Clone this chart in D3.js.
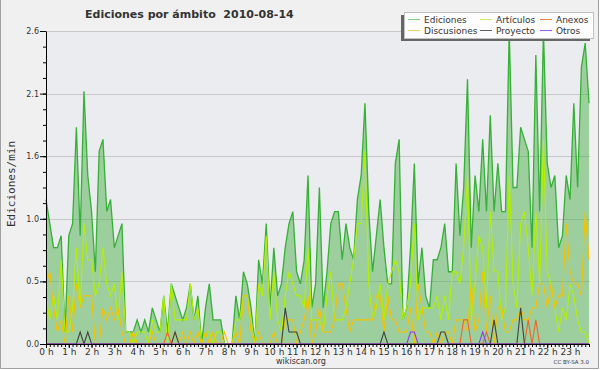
<!DOCTYPE html>
<html>
 <head>
  <meta charset="utf-8" />
  <title>Ediciones por ámbito 2010-08-14</title>
  <style>
   body, html {
    margin: 0;
    padding: 0;
    background: #fff;
   }
   svg {
    display: block;
   }
   text {
    font-family: "DejaVu Sans", sans-serif;
    fill: #333;
   }
  </style>
  <script src="https://cdnjs.cloudflare.com/ajax/libs/d3/7.9.0/d3.min.js"></script>
 </head>
 <body>
  <svg width="600" height="370"></svg>
  <script>
   // one value every 10 minutes, edits per minute
   const ediciones = [
    1.2, 1.0, 0.8, 0.8, 0.9, 0.1, 0.9, 1.0, 1.8, 0.9,
    2.1, 1.4, 1.1, 0.6, 1.6, 1.7, 1.1, 1.2, 0.8, 0.9,
    1.0, 0.1, 0.1, 0.1, 0.2, 0.1, 0.2, 0.1, 0.3, 0.2,
    0.1, 0.4, 0.1, 0.5, 0.4, 0.3, 0.2, 0.3, 0.5, 0.2,
    0.4, 0.0, 0.3, 0.5, 0.2, 0.2, 0.2, 0.0, 0.0, 0.0,
    0.4, 0.2, 0.6, 0.5, 0.3, 0.0, 0.7, 0.5, 1.0, 0.3,
    0.8, 0.4, 0.5, 0.8, 1.0, 1.1, 0.6, 0.5, 0.7, 1.4,
    0.3, 0.5, 1.3, 0.3, 0.6, 1.0, 1.1, 1.1, 0.7, 1.0,
    0.8, 0.7, 1.2, 1.4, 2.0, 1.1, 0.6, 0.9, 1.2, 0.8,
    0.5, 0.5, 1.5, 1.7, 0.2, 0.3, 0.8, 1.5, 0.5, 0.8,
    0.4, 0.3, 0.7, 0.7, 0.8, 1.0, 0.6, 0.6, 1.5, 0.9,
    1.3, 2.2, 0.8, 1.4, 1.1, 1.7, 1.1, 1.9, 1.1, 1.5,
    1.1, 1.1, 2.6, 1.3, 1.3, 1.8, 1.7, 1.6, 0.8, 2.4,
    1.1, 2.6, 1.5, 1.3, 1.4, 0.8, 0.9, 1.4, 1.2, 2.0,
    1.3, 2.3, 2.5, 2.0
   ];
   const articulos = [
    0.4, 0.2, 0.4, 0.2, 0.7, 0.1, 0.1, 0.3, 0.8, 0.3,
    1.0, 0.7, 0.7, 0.4, 0.5, 0.8, 0.5, 0.4, 0.5, 0.2,
    0.6, 0.1, 0.1, 0.0, 0.1, 0.1, 0.1, 0.0, 0.2, 0.1,
    0.1, 0.4, 0.0, 0.5, 0.2, 0.2, 0.2, 0.2, 0.5, 0.2,
    0.3, 0.0, 0.1, 0.1, 0.0, 0.1, 0.1, 0.0, 0.0, 0.0,
    0.2, 0.2, 0.4, 0.4, 0.2, 0.0, 0.5, 0.4, 0.9, 0.2,
    0.6, 0.2, 0.1, 0.4, 0.6, 0.5, 0.4, 0.4, 0.3, 0.8,
    0.2, 0.2, 0.2, 0.1, 0.4, 0.6, 0.2, 0.2, 0.2, 0.3,
    0.5, 0.7, 1.0, 1.0, 1.6, 0.5, 0.2, 0.3, 0.5, 0.2,
    0.5, 0.6, 0.7, 0.6, 0.2, 0.3, 0.5, 1.0, 0.2, 0.3,
    0.3, 0.3, 0.3, 0.4, 0.2, 0.4, 0.2, 0.6, 0.6, 0.5,
    0.8, 1.4, 0.2, 0.5, 0.9, 0.8, 0.3, 1.1, 0.6, 0.6,
    0.2, 0.3, 1.4, 0.5, 0.3, 1.0, 1.1, 0.8, 0.4, 1.1,
    0.5, 1.7, 0.6, 0.5, 0.3, 0.1, 0.3, 0.2, 0.5, 0.4,
    0.2, 0.1, 0.1, 0.0
   ];
   const discusiones = [
    0.5, 0.6, 0.3, 0.1, 0.2, 0.0, 0.4, 0.1, 0.5, 0.3,
    0.4, 0.4, 0.4, 0.0, 0.0, 0.3, 0.2, 0.3, 0.2, 0.3,
    0.1, 0.0, 0.0, 0.1, 0.0, 0.0, 0.0, 0.0, 0.1, 0.0,
    0.0, 0.0, 0.0, 0.0, 0.1, 0.0, 0.1, 0.0, 0.1, 0.0,
    0.1, 0.0, 0.1, 0.0, 0.1, 0.0, 0.0, 0.1, 0.0, 0.0,
    0.1, 0.0, 0.4, 0.4, 0.1, 0.0, 0.1, 0.0, 0.0, 0.0,
    0.1, 0.0, 0.0, 0.2, 0.2, 0.2, 0.0, 0.1, 0.2, 0.4,
    0.0, 0.1, 0.3, 0.1, 0.1, 0.1, 0.2, 0.5, 0.5, 0.3,
    0.1, 0.2, 0.2, 0.2, 0.2, 0.2, 0.2, 0.4, 0.4, 0.1,
    0.4, 0.2, 0.2, 0.1, 0.1, 0.1, 0.3, 0.0, 0.5, 0.3,
    0.1, 0.1, 0.0, 0.1, 0.0, 0.1, 0.1, 0.0, 0.2, 0.2,
    0.2, 0.1, 0.5, 0.1, 0.2, 0.6, 0.1, 0.4, 0.0, 0.3,
    0.3, 0.1, 0.1, 0.2, 0.2, 0.3, 0.2, 0.2, 0.3, 0.3,
    0.5, 0.5, 0.3, 0.5, 0.3, 0.4, 0.4, 1.0, 0.6, 0.5,
    0.5, 0.4, 1.1, 0.7
   ];
   // sparse series: [bin, value], every other bin is 0
   const anexosPts = [[32, 0.1], [110, 0.2], [111, 0.2], [116, 0.1], [127, 0.2], [129, 0.2]];
   const proyectoPts = [[9, 0.1], [11, 0.1], [34, 0.1], [63, 0.3], [64, 0.1], [65, 0.1], [66, 0.1],
    [89, 0.1], [104, 0.1], [105, 0.1], [118, 0.2], [125, 0.3]];
   const otrosPts = [[96, 0.1], [97, 0.1], [115, 0.1]];

   const yTicks = [0, 0.52, 1.04, 1.56, 2.08, 2.6];
   const hourLabels = d3.range(0, 24).map(h => h + " h");

   const nBins = ediciones.length;
   function sparse(pts) {
    const arr = new Array(nBins).fill(0);
    pts.forEach(p => arr[p[0]] = p[1]);
    return arr;
   }
   const anexos = sparse(anexosPts);
   const proyecto = sparse(proyectoPts);
   const otros = sparse(otrosPts);

   const series = [
    { name: "Ediciones", values: ediciones, color: "#36b036", legend: "#7fcf7f" },
    { name: "Artículos", values: articulos, color: "#b4f000", legend: "#c9ef6a" },
    { name: "Anexos", values: anexos, color: "#f4622a", legend: "#f08050" },
    { name: "Discusiones", values: discusiones, color: "#f5c200", legend: "#f6d060" },
    { name: "Proyecto", values: proyecto, color: "#404040", legend: "#606060" },
    { name: "Otros", values: otros, color: "#8a3cf0", legend: "#9a5cf0" }
   ];
   // drawing order: main series first, then the small ones on top
   const drawOrder = ["Ediciones", "Artículos", "Discusiones", "Anexos", "Proyecto", "Otros"];

   const plotLeft = 46, plotRight = 589, plotTop = 31, plotBottom = 344;

   const svg = d3.select("svg");

   // frame
   svg.append("rect")
    .attr("x", 0).attr("y", 0).attr("width", 599).attr("height", 369)
    .attr("fill", "#f0f0f0");
   svg.append("path")
    .attr("d", "M0.5,0 V368.5 H598.5 V0")
    .attr("fill", "none")
    .attr("stroke", "#a0a0a0");

   const x = d3.scaleLinear().domain([0, nBins - 1]).range([plotLeft, plotRight]);
   const y = d3.scaleLinear().domain([0, 2.6]).range([plotBottom, plotTop]);

   svg.append("rect")
    .attr("x", plotLeft).attr("y", plotTop)
    .attr("width", plotRight + 1 - plotLeft).attr("height", plotBottom - plotTop)
    .attr("fill", "#ebecef");

   svg.append("g").selectAll("line")
    .data(yTicks.slice(1))
    .enter().append("line")
    .attr("x1", plotLeft).attr("x2", plotRight + 1)
    .attr("y1", d => Math.round(y(d)) + 0.5)
    .attr("y2", d => Math.round(y(d)) + 0.5)
    .attr("stroke", "#c8c8cc");

   const area = d3.area()
    .x((d, i) => x(i))
    .y0(y(0))
    .y1(d => y(d));

   const line = d3.line()
    .x((d, i) => x(i))
    .y(d => y(d));

   svg.append("path")
    .attr("d", area(ediciones))
    .attr("fill", "#3caa3c")
    .attr("fill-opacity", 0.45);

   drawOrder.forEach(name => {
    const s = series.find(t => t.name === name);
    svg.append("path")
     .attr("d", line(s.values))
     .attr("fill", "none")
     .attr("stroke", s.color)
     .attr("stroke-width", name === "Ediciones" ? 1.3 : 1.1)
     .attr("stroke-linejoin", "miter");
   });

   // axes
   const yAxis = svg.append("g")
    .attr("transform", `translate(${plotLeft},0)`)
    .call(d3.axisLeft(y).tickValues(yTicks).tickFormat(d3.format(".1f")).tickSize(6).tickSizeOuter(0));
   svg.append("g")
    .attr("transform", `translate(${plotLeft},0)`)
    .call(d3.axisLeft(y).tickValues(d3.range(0, 21).map(i => i * 0.13)).tickFormat("").tickSize(3).tickSizeOuter(0))
    .select(".domain").remove();

   const xAxis = svg.append("g")
    .attr("transform", `translate(0,${plotBottom})`)
    .call(d3.axisBottom(x).tickValues(d3.range(0, nBins, 6)).tickFormat(d => hourLabels[d / 6]).tickSize(4).tickSizeOuter(0));
   svg.append("g")
    .attr("transform", `translate(0,${plotBottom})`)
    .call(d3.axisBottom(x).tickValues(d3.range(0, nBins)).tickFormat("").tickSize(3).tickSizeOuter(0))
    .select(".domain").remove();

   svg.selectAll(".tick line, .domain").attr("stroke", "#000");
   yAxis.selectAll("text")
    .attr("x", -7)
    .style("font-family", "'DejaVu Sans', sans-serif")
    .style("font-size", "8px")
    .attr("fill", "#333");
   xAxis.selectAll("text")
    .attr("y", 5)
    .style("font-family", "'DejaVu Sans', sans-serif")
    .style("font-size", "9px")
    .attr("fill", "#333");

   // title and labels
   svg.append("text")
    .attr("x", 85).attr("y", 18)
    .style("font-size", "11px")
    .style("font-weight", "bold")
    .style("white-space", "pre")
    .attr("fill", "#111")
    .text("Ediciones por ámbito  2010-08-14");

   svg.append("text")
    .attr("transform", "translate(15,184) rotate(-90)")
    .attr("text-anchor", "middle")
    .style("font-family", "'DejaVu Sans Mono', monospace")
    .style("font-size", "11px")
    .attr("fill", "#111")
    .text("Ediciones/min");

   svg.append("text")
    .attr("x", 301).attr("y", 364)
    .attr("text-anchor", "middle")
    .style("font-size", "8px")
    .text("wikiscan.org");

   svg.append("text")
    .attr("x", 589).attr("y", 364)
    .attr("text-anchor", "end")
    .style("font-size", "5.5px")
    .text("CC BY-SA 3.0");

   // legend
   const lg = svg.append("g");
   lg.append("rect")
    .attr("x", 401).attr("y", 15).attr("width", 189).attr("height", 26)
    .attr("fill", "#666");
   lg.append("rect")
    .attr("x", 404.5).attr("y", 12.5).attr("width", 189).attr("height", 26)
    .attr("fill", "#fdfdfd")
    .attr("stroke", "#c0c0c0");

   const colX = [408, 480, 540];
   const rowY = [19, 30];
   series.forEach((s, i) => {
    const cx = colX[i % 3];
    const cy = rowY[Math.floor(i / 3)];
    lg.append("line")
     .attr("x1", cx).attr("x2", cx + 12)
     .attr("y1", cy + 0.5).attr("y2", cy + 0.5)
     .attr("stroke", s.legend);
    lg.append("text")
     .attr("x", cx + 16).attr("y", cy + 3.5)
     .style("font-size", "9px")
     .attr("fill", "#222")
     .text(s.name);
   });
  </script>
 </body>
</html>
